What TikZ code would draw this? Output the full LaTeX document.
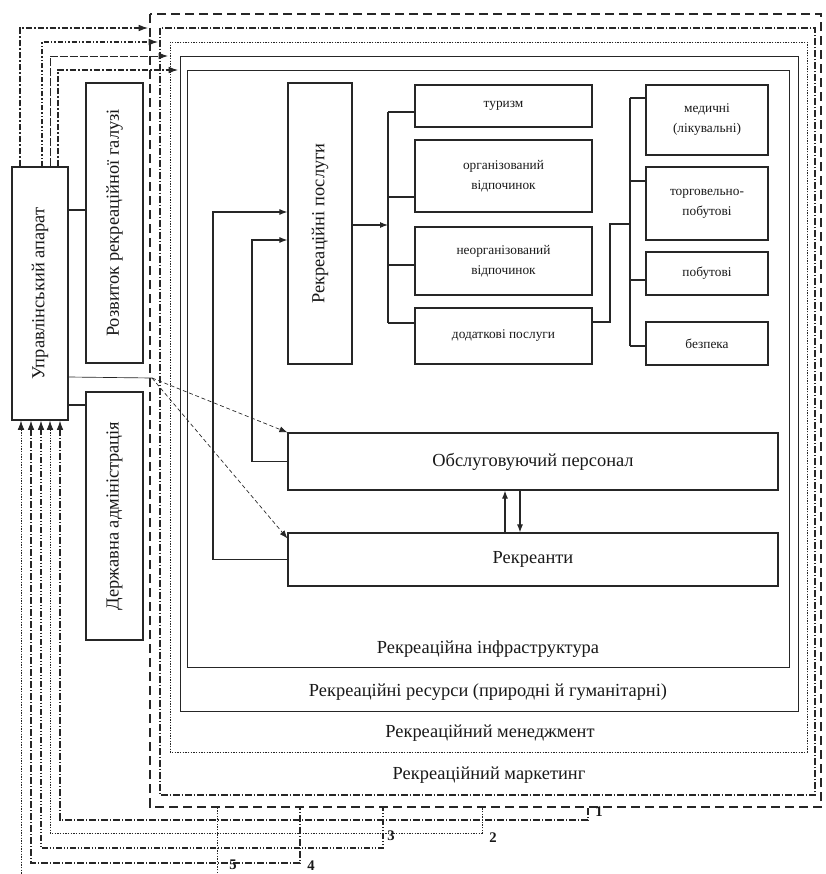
\documentclass[tikz,border=0pt]{standalone}
\usepackage{fontspec}
\setmainfont{Liberation Serif}
\usetikzlibrary{arrows.meta,fit,calc}
\begin{document}
\begin{tikzpicture}[x=0.75pt,y=-0.75pt,
  ink/.style={draw=black!85},
  bx/.style={ink, line width=0.9pt, inner sep=0pt},
  txt/.style={font=\fontsize{13.8}{16}\selectfont, text=black!90},
  small/.style={font=\fontsize{10}{15}\selectfont, text=black!90, align=center},
  num/.style={font=\fontsize{11}{12}\selectfont\bfseries, text=black!90},
  conn/.style={ink, line width=0.8pt},
  arr/.style={conn, -{Latex[length=6pt,width=4.5pt]}},
  diag/.style={ink, line width=0.5pt, densely dashed, -{Latex[length=6pt,width=4.5pt]}},
  frA/.style={ink, line width=1.3pt, dash pattern=on 7pt off 3.5pt},
  frB/.style={ink, line width=0.8pt, dash pattern=on 5pt off 1.5pt on 1pt off 1.5pt},
  frC/.style={ink, line width=0.7pt, dash pattern=on 1pt off 1pt},
  frD/.style={ink, line width=0.6pt},
  frE/.style={ink, line width=0.7pt},
  ctA/.style={ink, line width=0.8pt, dash pattern=on 5pt off 1.5pt on 1pt off 1.5pt},
  ctB/.style={ink, line width=0.6pt, dash pattern=on 1pt off 1pt},
  ctC/.style={ink, line width=0.8pt, dash pattern=on 4pt off 1.5pt on 1pt off 1.5pt on 1pt off 1.5pt},
  ctD/.style={ink, line width=0.7pt, dash pattern=on 6pt off 1.5pt},
  tip/.style={-{Latex[length=7pt,width=5pt]}},
  rtip/.style={{Latex[length=7pt,width=5pt]}-}
]
\useasboundingbox (0,0) rectangle (825,874);
\fill[white] (0,0) rectangle (825,874);

% nested frames
\draw[frA] (150,14) rectangle (821,807);
\draw[frB] (160,28) rectangle (815,795);
\draw[frC] (170,42) rectangle (807,752);
\draw[frD] (180,56) rectangle (798,711);
\draw[frE] (187,70) rectangle (789,667);

% frame labels
\node[txt] (lInf) at (488,649) {Рекреаційна інфраструктура};
\node[txt] (lRes) at (488,692) {Рекреаційні ресурси (природні й гуманітарні)};
\node[txt] (lMen) at (490,733) {Рекреаційний менеджмент};
\node[txt] (lMar) at (489,775) {Рекреаційний маркетинг};

% boxes
\node[bx, fit={(12,167) (68,420)}] (app) {};
\node[txt, rotate=90] at (app.center) {Управлінський апарат};
\node[bx, fit={(86,83) (143,363)}] (rozv) {};
\node[txt, rotate=90] at (rozv.center) {Розвиток рекреаційної галузі};
\node[bx, fit={(86,392) (143,640)}] (derzh) {};
\node[txt, rotate=90] at (derzh.center) {Державна адміністрація};
\node[bx, fit={(288,83) (352,364)}] (posl) {};
\node[txt, rotate=90] at (posl.center) {Рекреаційні послуги};

\node[bx, fit={(415,85) (592,127)}] (m1) {};
\node[small] at (m1.center) {туризм};
\node[bx, fit={(415,140) (592,212)}] (m2) {};
\node[small] at (m2.center) {організований\\відпочинок};
\node[bx, fit={(415,227) (592,295)}] (m3) {};
\node[small] at (m3.center) {неорганізований\\відпочинок};
\node[bx, fit={(415,308) (592,364)}] (m4) {};
\node[small] at (m4.center) {додаткові послуги};

\node[bx, fit={(646,85) (768,155)}] (r1) {};
\node[small] at (r1.center) {медичні\\(лікувальні)};
\node[bx, fit={(646,167) (768,240)}] (r2) {};
\node[small] at (r2.center) {торговельно-\\побутові};
\node[bx, fit={(646,252) (768,295)}] (r3) {};
\node[small] at (r3.center) {побутові};
\node[bx, fit={(646,322) (768,365)}] (r4) {};
\node[small] at (r4.center) {безпека};

\node[bx, fit={(288,433) (778,490)}] (obsl) {};
\node[txt] at (obsl.center) {Обслуговуючий персонал};
\node[bx, fit={(288,533) (778,586)}] (rekr) {};
\node[txt] at (rekr.center) {Рекреанти};

% connectors
\draw[conn] (app.east |- 0,210) -- (rozv.west |- 0,210);
\draw[conn] (app.east |- 0,405) -- (derzh.west |- 0,405);
\coordinate (hub) at (152,378);
\draw[ink, line width=0.5pt] (app.east |- 0,377) -- (hub);
\draw[diag] (hub) -- (obsl.north west);
\draw[diag] (hub) -- ($(rekr.north west)+(0,6)$);

\draw[arr] (rekr.west) -| (213,212) -- (posl.west |- 0,212);
\draw[arr] (obsl.west) -| (252,240) -- (posl.west |- 0,240);

\coordinate (bl) at (388,225);
\draw[arr] (posl.east |- bl) -- (bl);
\draw[conn] (388,112) -- (388,323);
\draw[conn] (388,112) -- (m1.west |- 0,112);
\draw[conn] (388,197) -- (m2.west |- 0,197);
\draw[conn] (388,265) -- (m3.west |- 0,265);
\draw[conn] (388,323) -- (m4.west |- 0,323);

\draw[conn] (m4.east |- 0,322) -| (610,224) -- (630,224);
\draw[conn] (630,98) -- (630,346);
\draw[conn] (630,98) -- (r1.west |- 0,98);
\draw[conn] (630,181) -- (r2.west |- 0,181);
\draw[conn] (630,280) -- (r3.west |- 0,280);
\draw[conn] (630,346) -- (r4.west |- 0,346);

\draw[arr] (rekr.north -| 505,0) -- (obsl.south -| 505,0);
\draw[arr] (obsl.south -| 520,0) -- (rekr.north -| 520,0);

% control lines, top
\draw[ctA, tip] (app.north -| 20,0) |- (148,28);
\draw[ctC, tip] (app.north -| 42,0) |- (158,42);
\draw[ctD, tip] (app.north -| 50,0) |- (168,56);
\draw[ctA, tip] (app.north -| 58,0) |- (178,70);

% control lines, bottom
\begin{scope}
\clip (0,0) rectangle (825,874);
\draw[ctA, rtip] (app.south -| 60,0) |- (588,820) -- (588,807);
\draw[ctB, rtip] (app.south -| 50,0) |- (482,833) -- (482,807);
\draw[ctC, rtip] (app.south -| 41,0) |- (383,848) -- (383,807);
\draw[ctA, rtip] (app.south -| 31,0) |- (300,863) -- (300,807);
\draw[ctB, rtip] (app.south -| 21,0) |- (217,880) -- (217,807);
\end{scope}
\node[num] (n1) at (599,812) {1};
\node[num] (n2) at (493,838) {2};
\node[num] (n3) at (391,836) {3};
\node[num] (n4) at (311,866) {4};
\node[num] (n5) at (233,865) {5};
\end{tikzpicture}
\end{document}
